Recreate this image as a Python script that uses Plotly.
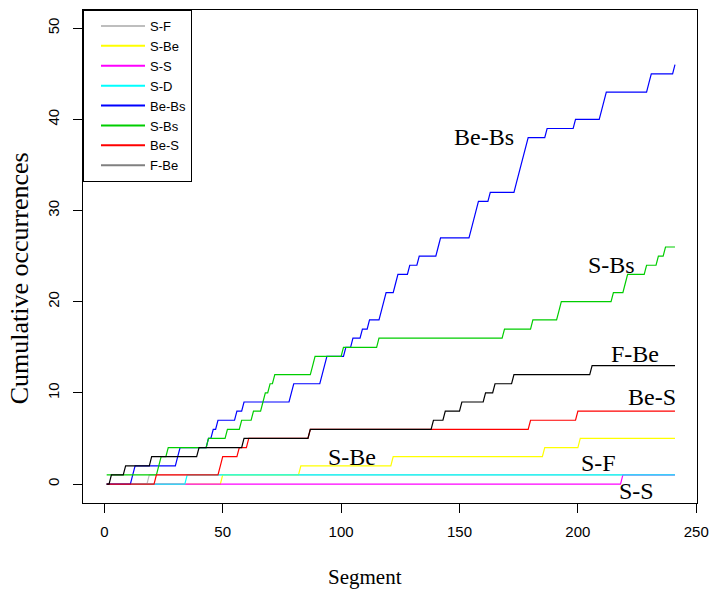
import numpy as np
import plotly.graph_objects as go

# ---- data ----
segments = np.arange(1, 242)

series_names = ["S-F", "S-Be", "S-S", "S-D", "Be-Bs", "S-Bs", "Be-S", "F-Be"]

# segment numbers at which each pair type occurs (one entry per occurrence)
events_SF = [19]
events_SBe = [50, 83, 122, 186, 201]
events_SS = [219]
events_SD = [35]
events_BeBs = [12, 13, 31, 32, 44, 46, 48, 56, 59, 79, 80, 92, 93, 94, 102, 105,
               109, 112, 117, 118, 119, 123, 124, 129, 133, 141, 142, 155, 156,
               157, 158, 163, 174, 175, 176, 177, 178, 179, 187, 199, 210, 211,
               212, 230, 231, 241]
events_SBs = [1, 23, 24, 27, 44, 52, 58, 63, 67, 68, 70, 72, 88, 89, 101, 116,
              169, 181, 192, 193, 215, 220, 221, 229, 234, 237]
events_BeS = [22, 49, 50, 57, 61, 87, 180, 200]
events_FBe = [3, 9, 20, 40, 59, 87, 139, 144, 151, 161, 165, 173, 206]

x_ticks = [0, 50, 100, 150, 200, 250]
y_ticks = [0, 10, 20, 30, 40, 50]

# ---- styles ----
line_colors = ["#bebebe", "#ffff00", "#ff00ff", "#00ffff", "#0000ff", "#00cd00", "#ff0000", "#000000"]
legend_colors = ["#bebebe", "#ffff00", "#ff00ff", "#00ffff", "#0000ff", "#00cd00", "#ff0000", "#808080"]

all_events = [events_SF, events_SBe, events_SS, events_SD, events_BeBs, events_SBs, events_BeS, events_FBe]

fig = go.Figure()

for name, ev, col in zip(series_names, all_events, line_colors):
    cum = np.searchsorted(np.sort(np.array(ev)), segments, side="right")
    fig.add_trace(go.Scatter(x=segments, y=cum, mode="lines", name=name,
                             line=dict(color=col, width=1.2), showlegend=False,
                             hoverinfo="x+y+name"))

for name, col in zip(series_names, legend_colors):
    fig.add_trace(go.Scatter(x=[None], y=[None], mode="lines", name=name,
                             line=dict(color=col, width=2), showlegend=True))

serif = "Liberation Serif, Times New Roman, serif"
sans = "Liberation Sans, Arial, sans-serif"

labels = [("Be-Bs", 160.5, 38.1), ("S-Bs", 214.3, 24.0), ("F-Be", 224.3, 14.3),
          ("Be-S", 231.2, 9.5), ("S-Be", 104.8, 3.0), ("S-F", 208.7, 2.3),
          ("S-S", 224.8, -0.8)]
annotations = []
for txt, lx, ly in labels:
    annotations.append(dict(x=lx, y=ly, xref="x", yref="y", text=txt, showarrow=False,
                            font=dict(family=serif, size=24, color="black"),
                            xanchor="center", yanchor="middle"))

annotations.append(dict(x=0.4585, y=-0.151, xref="paper", yref="paper", text="Segment",
                        showarrow=False, font=dict(family=serif, size=21, color="black"),
                        xanchor="center", yanchor="middle"))
annotations.append(dict(x=-0.104, y=0.456, xref="paper", yref="paper",
                        text="Cumulative occurrences", textangle=-90,
                        showarrow=False, font=dict(family=serif, size=26, color="black"),
                        xanchor="center", yanchor="middle"))

fig.update_layout(
    width=718, height=590,
    margin=dict(l=83, r=14, t=9, b=87),
    paper_bgcolor="white", plot_bgcolor="white",
    showlegend=True,
    legend=dict(x=0, y=1, xanchor="left", yanchor="top", xref="paper", yref="paper",
                bordercolor="black", borderwidth=1, bgcolor="white",
                font=dict(family=sans, size=13, color="black"),
                indentation=12, itemwidth=44, tracegroupgap=0),
    annotations=annotations,
    xaxis=dict(range=[-9.0, 250.3], tickvals=x_ticks, ticktext=[str(v) for v in x_ticks],
               ticks="outside", ticklen=9, tickcolor="black", tickwidth=1,
               showline=True, mirror=True, linecolor="black", linewidth=1,
               showgrid=False, zeroline=False, ticklabelstandoff=6,
               tickfont=dict(family=sans, size=15, color="black")),
    yaxis=dict(range=[-2.08, 52.0], tickvals=y_ticks, ticktext=[str(v) for v in y_ticks],
               ticks="outside", ticklen=9, tickcolor="black", tickwidth=1,
               showline=True, mirror=True, linecolor="black", linewidth=1,
               showgrid=False, zeroline=False, tickangle=-90, ticklabelstandoff=8,
               tickfont=dict(family=sans, size=15, color="black")),
)

fig.write_html("out.html", config={"displayModeBar": False},
               post_script="document.body.style.margin='0';document.body.style.padding='0';")
